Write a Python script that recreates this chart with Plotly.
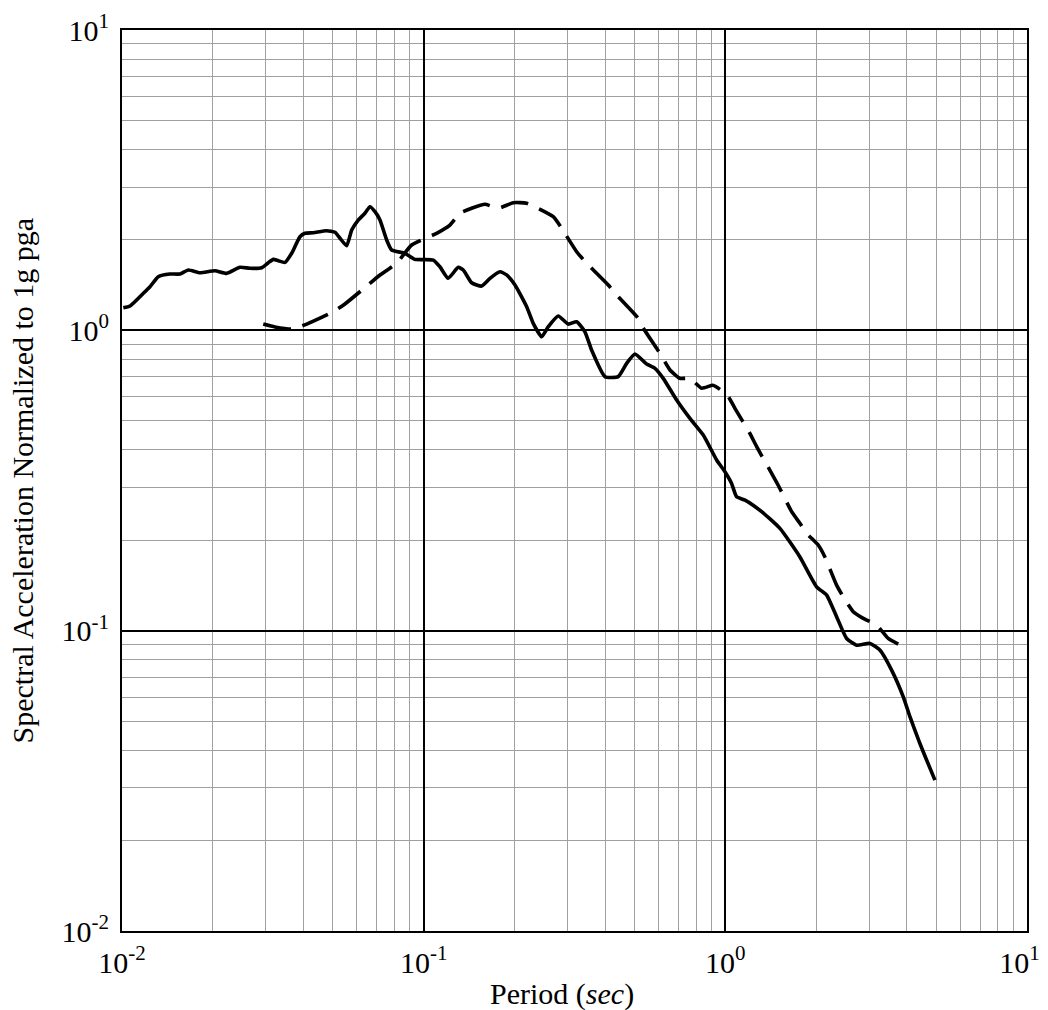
import plotly.graph_objects as go

# Solid curve (period in sec, spectral acceleration normalized to 1g pga)
solid_T = [0.0101, 0.01063, 0.01177, 0.01238, 0.01319, 0.01442, 0.01557, 0.01659, 0.01813, 0.02033,
           0.02223, 0.02461, 0.02656, 0.02904, 0.03055, 0.03174, 0.03297, 0.03470, 0.03651, 0.03890,
           0.04042, 0.04306, 0.04770, 0.05082, 0.05280, 0.05557, 0.05773, 0.06069, 0.06388, 0.06637,
           0.06896, 0.07164, 0.07540, 0.07832, 0.08670, 0.09358, 0.1076, 0.1132, 0.1206, 0.1302,
           0.1353, 0.1442, 0.1557, 0.1659, 0.1790, 0.1884, 0.2008, 0.2195, 0.2308, 0.2461,
           0.2588, 0.2793, 0.3015, 0.3214, 0.3424, 0.3603, 0.3990, 0.4416, 0.4709, 0.5016,
           0.5483, 0.5843, 0.6224, 0.6896, 0.7632, 0.8449, 0.9357, 0.997, 1.049, 1.090,
           1.162, 1.319, 1.517, 1.767, 2.007, 2.167, 2.338, 2.524, 2.724, 3.015,
           3.253, 3.558, 3.889, 4.092, 4.416, 4.647, 4.952]
solid_Sa = [1.189, 1.205, 1.328, 1.397, 1.508, 1.540, 1.540, 1.588, 1.555, 1.579,
            1.548, 1.621, 1.609, 1.616, 1.680, 1.723, 1.705, 1.684, 1.805, 2.050,
            2.104, 2.113, 2.146, 2.120, 2.025, 1.913, 2.158, 2.329, 2.453, 2.580,
            2.483, 2.329, 1.999, 1.851, 1.805, 1.723, 1.714, 1.628, 1.490, 1.621,
            1.588, 1.440, 1.404, 1.490, 1.567, 1.529, 1.415, 1.198, 1.055, 0.952,
            1.028, 1.116, 1.049, 1.068, 0.989, 0.860, 0.701, 0.701, 0.776, 0.834,
            0.772, 0.747, 0.692, 0.586, 0.509, 0.448, 0.370, 0.338, 0.309, 0.279,
            0.272, 0.249, 0.219, 0.176, 0.140, 0.1314, 0.1113, 0.0942, 0.0895, 0.0907,
            0.0862, 0.0739, 0.0602, 0.0517, 0.0421, 0.0371, 0.0318]

# Dashed curve
dash_T = [0.02939, 0.03215, 0.03651, 0.04095, 0.05017, 0.05483, 0.06474, 0.07164, 0.08137, 0.09124,
          0.1104, 0.1222, 0.1319, 0.1442, 0.1596, 0.1767, 0.1982, 0.2195, 0.2689, 0.2867,
          0.3214, 0.3469, 0.4091, 0.4363, 0.5144, 0.5343, 0.6069, 0.6553, 0.7071, 0.7632,
          0.8346, 0.9097, 0.9597, 1.020, 1.076, 1.206, 1.270, 1.424, 1.497, 1.659,
          1.767, 1.860, 2.032, 2.138, 2.338, 2.459, 2.655, 2.865, 3.174, 3.467, 3.742]
dash_Sa = [1.049, 1.026, 1.010, 1.049, 1.153, 1.224, 1.404, 1.529, 1.672, 1.923,
           2.104, 2.242, 2.453, 2.549, 2.628, 2.549, 2.660, 2.648, 2.389, 2.186,
           1.827, 1.672, 1.415, 1.311, 1.096, 1.018, 0.838, 0.738, 0.692, 0.692,
           0.642, 0.656, 0.636, 0.604, 0.550, 0.454, 0.410, 0.334, 0.305, 0.249,
           0.2277, 0.2109, 0.1928, 0.176, 0.1418, 0.1297, 0.1156, 0.1099, 0.1044, 0.0942, 0.0902]

x_tickvals = [0.01, 0.1, 1, 10]
x_ticktext = ["10<sup>-2</sup>", "10<sup>-1</sup>", "10<sup>0</sup>", "10<sup>1</sup>&nbsp;&nbsp;"]
y_tickvals = [0.01, 0.1, 1, 10]
y_ticktext = ["10<sup>-2</sup>", "10<sup>-1</sup>", "10<sup>0</sup>", "10<sup>1</sup>"]

x_title = "Period (<i>sec</i>)"
y_title = "Spectral Acceleration Normalized to 1g pga"

FONT = "Liberation Serif, Times New Roman, serif"

fig = go.Figure()
fig.add_trace(go.Scatter(x=solid_T, y=solid_Sa, mode="lines",
                         line=dict(color="black", width=3.6, shape="spline", smoothing=0.5),
                         showlegend=False))
fig.add_trace(go.Scatter(x=dash_T, y=dash_Sa, mode="lines",
                         line=dict(color="black", width=3.6, dash="28px,12px", shape="spline", smoothing=0.5),
                         showlegend=False))

axis_common = dict(
    type="log",
    showgrid=True, gridcolor="black", gridwidth=1.5,
    minor=dict(dtick="D1", showgrid=True, gridcolor="#a0a0a0", gridwidth=1, ticks=""),
    showline=True, linecolor="black", linewidth=2, mirror=True,
    ticks="", zeroline=False, automargin=False,
    ticklabeloverflow="allow",
    tickfont=dict(family=FONT, size=30, color="black"),
)

fig.update_xaxes(range=[-2, 1], tickmode="array", tickvals=x_tickvals, ticktext=x_ticktext,
                 ticklabelstandoff=4, **axis_common)
fig.update_yaxes(range=[-2, 1], tickmode="array", tickvals=y_tickvals, ticktext=y_ticktext,
                 ticklabelstandoff=5, **axis_common)

fig.add_annotation(text=x_title, xref="paper", yref="paper", x=0.486, y=0,
                   xanchor="center", yanchor="top", yshift=-44, showarrow=False,
                   font=dict(family=FONT, size=30, color="black"))
fig.add_annotation(text=y_title, xref="paper", yref="paper", x=-0.1094, y=0.5,
                   xanchor="center", yanchor="middle", textangle=-90, showarrow=False,
                   font=dict(family=FONT, size=30, color="black"))

fig.update_layout(width=1048, height=1010,
                  margin=dict(l=122, r=21, t=30, b=79),
                  paper_bgcolor="white", plot_bgcolor="white",
                  font=dict(family=FONT, color="black"))

fig.write_html("out.html", config={"displayModeBar": False},
               post_script="document.body.style.margin='0';document.body.style.overflow='hidden';")
